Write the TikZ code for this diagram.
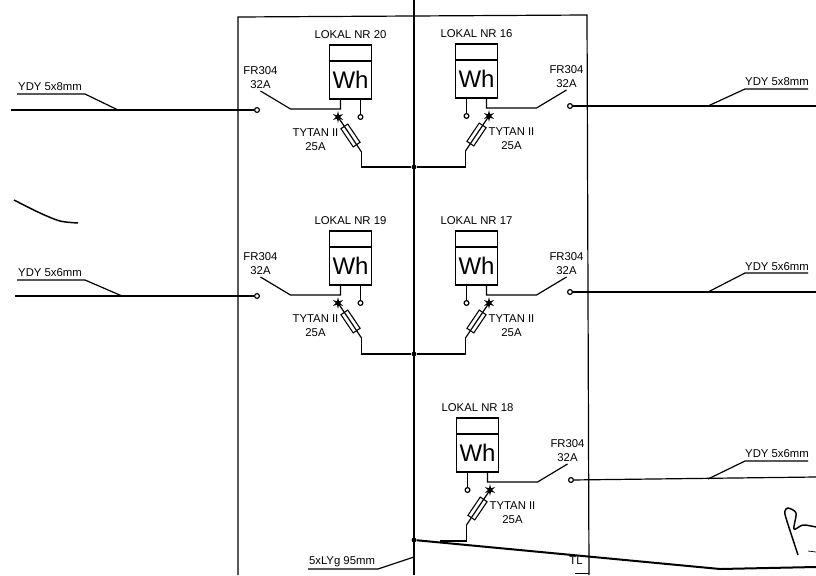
\documentclass[tikz,border=0pt]{standalone}
\usepackage{fontspec}
\setmainfont{Liberation Sans}
\usetikzlibrary{shapes.geometric}
\tikzset{
  przewod/.style={line width=0.9pt},
  opis/.style={font=\fontsize{8.5}{10.5}\selectfont, align=center, inner sep=0pt},
  styk/.style={circle, draw, line width=0.9pt, minimum size=3.6pt, inner sep=0pt},
  wezel/.style={circle, fill, minimum size=3.6pt, inner sep=0pt},
  iskra/.style={star, star points=6, star point ratio=3, fill, minimum size=9pt, inner sep=0pt},
  bezpiecznik/.style={rectangle, draw, line width=0.8pt, minimum width=16.5pt, minimum height=6.2pt, inner sep=0pt, transform shape, rotate=56},
}
% #1 = xscale, #2 = number, #3 = x, #4 = y of the meter bottom, #5 = contact drop
\newcommand{\lokal}[5]{
\begin{scope}[shift={(#3,#4)}, xscale=#1]
  \node [draw, line width=0.9pt, minimum width=31.5pt, minimum height=40.5pt, inner sep=0pt] (m#2) at (0,-27) {};
  \draw [przewod] (-21,-38) -- (21,-38);
  \node [font=\fontsize{18}{18}\selectfont, inner sep=0pt] (wh#2) at (0,-19) {Wh};
  \node [opis] (nr#2) at (0,-64) {LOKAL NR #2};
  % neutral pin
  \node [styk] (n#2) at (-10,18) {};
  \draw [przewod] (-10,0) -- (n#2);
  % switch
  \node [styk] (k#2) at (93.5,#5) {};
  \coordinate (a#2) at (60,10);
  \coordinate (b#2) at (90,-8);
  \draw [przewod] (10,0) -- (10,10) -- (a#2) -- (b#2);
  \node [opis] (fr#2) at (90,-21) {FR304\\32A};
  % fuse
  \node [iskra] (s#2) at (12.5,18) {};
  \coordinate (g#2) at (-11,53);
  \node [bezpiecznik] (f#2) at (0,36.5) {};
  \draw [przewod] (s#2.center) -- (f#2.center) -- (g#2);
  \node [opis] (t#2) at (35,41) {TYTAN II\\25A};
\end{scope}
}
\begin{document}
\begin{tikzpicture}[x=0.75pt, y=-0.75pt]
\useasboundingbox (0,0) rectangle (816,575);
% frame
\coordinate (r1) at (238,575);
\coordinate (r2) at (238,17);
\coordinate (r3) at (587,15);
\coordinate (r4) at (589,575);
\coordinate (r5) at (575,573.5);
\coordinate (c1) at (414,0);
\coordinate (c2) at (414,575);
\draw [przewod] (r1) -- (r2) -- (r3) -- (r4);
\draw [przewod] (c1) -- (c2);
\draw [line width=0.6pt] (r5) -- (r5 -| r4);
% meters
\lokal{-1}{20}{350.5}{99}{11}
\lokal{1}{16}{476.5}{98}{8}
\lokal{-1}{19}{350.5}{285}{11}
\lokal{1}{17}{476.5}{285}{7}
\lokal{1}{18}{477.5}{472}{8}
% bus points
\node [wezel] (w1) at (414,167) {};
\node [wezel] (w2) at (414,354) {};
\node [wezel] (w3) at (414,540) {};
\coordinate (w4) at (440,541);
\draw [przewod] (g20) -- (g20 |- w1) -- (w1) -- (w1 -| g16) -- (g16);
\draw [przewod] (g19) -- (g19 |- w2) -- (w2) -- (w2 -| g17) -- (g17);
\draw [przewod] (g18) -- (g18 |- w4) -- (w4);
% feeders
\coordinate (z1) at (11,110);
\coordinate (z2) at (15,296);
\coordinate (z3) at (816,106);
\coordinate (z4) at (816,292);
\coordinate (z5) at (816,477);
\draw [przewod] (z1) -- (k20);
\draw [przewod] (z2) -- (k19);
\draw [przewod] (k16) -- (z3);
\draw [przewod] (k17) -- (z4);
\draw [przewod] (k18) -- (z5);
% cable labels
\node [opis] (y1) at (50,87) {YDY 5x8mm};
\node [opis] (y2) at (50,273) {YDY 5x6mm};
\node [opis] (y3) at (777,82) {YDY 5x8mm};
\node [opis] (y4) at (777,267) {YDY 5x6mm};
\node [opis] (y5) at (777,454) {YDY 5x6mm};
\draw [przewod] (17,94) -- (85,94) -- (118,110);
\draw [przewod] (17,280) -- (85,280) -- (122,296);
\draw [przewod] (708,106) -- (745,89) -- (808,89);
\draw [przewod] (708,292) -- (745,273) -- (808,273);
\draw [przewod] (708,479) -- (745,461) -- (808,461);
% main cable
\coordinate (l1) at (720,569);
\coordinate (l2) at (816,567);
\draw [line width=1.5pt] (w3) -- (l1) -- (l2);
\node [opis] (lyg) at (342,562) {5xLYg 95mm};
\draw [przewod] (308,569) -- (378,569) -- (414,557);
\node [opis] (tl) at (576,561) {TL};
% hand marks
\draw [line width=1.1pt] plot [smooth] coordinates {(14,200) (40,213) (60,221) (78,223)};
\draw [line width=1.1pt] plot [smooth] coordinates {(798,555) (786,518) (785,511) (788,508) (796,513) (794,529) (803,525) (816,527)};
\draw [line width=0.5pt] (808,551) -- (816,552);
\end{tikzpicture}
\end{document}
